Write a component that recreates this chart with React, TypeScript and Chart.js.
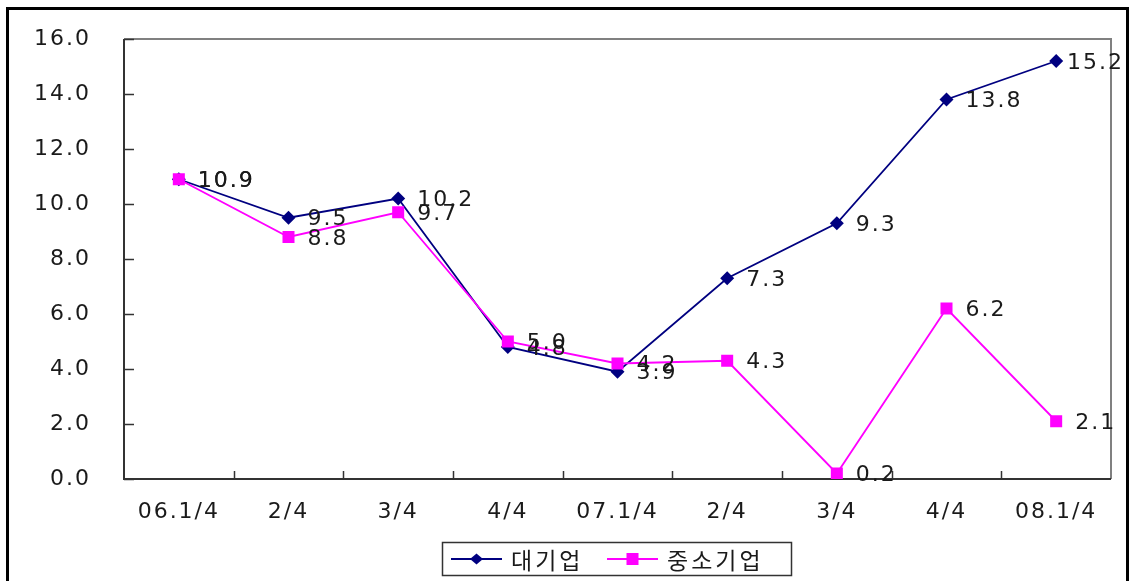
import React, { useEffect, useRef } from "react";
import { Chart, registerables } from "chart.js";

Chart.register(...registerables);

const categories = ["06.1/4", "2/4", "3/4", "4/4", "07.1/4", "2/4", "3/4", "4/4", "08.1/4"];
const largeFirms = [10.9, 9.5, 10.2, 4.8, 3.9, 7.3, 9.3, 13.8, 15.2];
const smeFirms = [10.9, 8.8, 9.7, 5.0, 4.2, 4.3, 0.2, 6.2, 2.1];
const seriesNames = ["대기업", "중소기업"];
const yMin = 0;
const yMax = 16;
const yStep = 2;

const NAVY = "#000080";
const MAGENTA = "#FF00FF";
const FONT = "'DejaVu Sans', 'Noto Sans CJK KR', sans-serif";
const SPACING = "2px";

const setSpacing = (chart: any) => {
  (chart.ctx as any).letterSpacing = SPACING;
};

const decorPlugin = {
  id: "decor",
  beforeUpdate: setSpacing,
  beforeLayout: setSpacing,
  beforeDraw(chart: any) {
    setSpacing(chart);
    const ctx = chart.ctx;
    ctx.save();
    ctx.fillStyle = "#ffffff";
    ctx.fillRect(0, 0, chart.width, chart.height);
    ctx.strokeStyle = "#000000";
    ctx.lineWidth = 3;
    ctx.strokeRect(7.5, 8.5, 1120, 700);
    ctx.restore();
  },
  beforeDatasetsDraw(chart: any) {
    const ctx = chart.ctx;
    const { left, right, top, bottom } = chart.chartArea;
    const y = chart.scales.y;
    ctx.save();
    ctx.strokeStyle = "#808080";
    ctx.lineWidth = 2;
    ctx.beginPath();
    ctx.moveTo(left, top);
    ctx.lineTo(right, top);
    ctx.lineTo(right, bottom);
    ctx.stroke();
    ctx.strokeStyle = "#333333";
    ctx.beginPath();
    ctx.moveTo(left, top);
    ctx.lineTo(left, bottom);
    ctx.lineTo(right, bottom);
    ctx.stroke();
    ctx.lineWidth = 1.5;
    for (let v = yMin; v <= yMax; v += yStep) {
      const py = Math.round(y.getPixelForValue(v)) + 0.5;
      ctx.beginPath();
      ctx.moveTo(left, py);
      ctx.lineTo(left + 10, py);
      ctx.stroke();
    }
    const n = categories.length;
    const w = (right - left) / n;
    for (let i = 1; i < n; i++) {
      const px = Math.round(left + i * w) + 0.5;
      ctx.beginPath();
      ctx.moveTo(px, bottom);
      ctx.lineTo(px, bottom - 8);
      ctx.stroke();
    }
    ctx.restore();
  },
  afterDatasetsDraw(chart: any) {
    const ctx = chart.ctx;
    ctx.save();
    ctx.font = `22px ${FONT}`;
    (ctx as any).letterSpacing = SPACING;
    ctx.fillStyle = "#1a1a1a";
    ctx.textAlign = "left";
    ctx.textBaseline = "middle";
    [0, 1].forEach((di) => {
      const meta = chart.getDatasetMeta(di);
      const data = chart.data.datasets[di].data as number[];
      meta.data.forEach((pt: any, i: number) => {
        const txt = data[i].toFixed(1);
        const tw = ctx.measureText(txt).width;
        let tx = pt.x + 19;
        if (tx + tw > 1124) tx = 1124 - tw;
        ctx.fillText(txt, tx, pt.y + 2);
      });
    });
    ctx.restore();

    ctx.save();
    ctx.strokeStyle = "#333333";
    ctx.lineWidth = 1.5;
    ctx.strokeRect(442.5, 542.5, 349, 33);
    const items = [
      { color: NAVY, style: "diamond", x0: 451, text: seriesNames[0], tx: 511 },
      { color: MAGENTA, style: "square", x0: 607, text: seriesNames[1], tx: 667 },
    ];
    const ly = 559;
    items.forEach((it) => {
      ctx.strokeStyle = it.color;
      ctx.lineWidth = 1.8;
      ctx.beginPath();
      ctx.moveTo(it.x0, ly);
      ctx.lineTo(it.x0 + 51, ly);
      ctx.stroke();
      ctx.fillStyle = it.color;
      const cx = it.x0 + 25.5;
      if (it.style === "diamond") {
        ctx.beginPath();
        ctx.moveTo(cx - 6.5, ly);
        ctx.lineTo(cx, ly - 5.5);
        ctx.lineTo(cx + 6.5, ly);
        ctx.lineTo(cx, ly + 5.5);
        ctx.closePath();
        ctx.fill();
      } else {
        ctx.fillRect(cx - 6, ly - 6, 12, 12);
      }
      ctx.fillStyle = "#1a1a1a";
      ctx.font = `23px 'Noto Sans CJK KR', sans-serif`;
      (ctx as any).letterSpacing = "3px";
      ctx.textAlign = "left";
      ctx.textBaseline = "middle";
      ctx.fillText(it.text, it.tx, ly + 1);
    });
    ctx.restore();
  },
};

export default function App() {
  const ref = useRef<HTMLCanvasElement>(null);
  useEffect(() => {
    if (!ref.current) return;
    const chart = new Chart(ref.current, {
      type: "line",
      data: {
        labels: categories,
        datasets: [
          {
            label: seriesNames[0],
            data: largeFirms,
            borderColor: NAVY,
            backgroundColor: NAVY,
            borderWidth: 1.8,
            pointStyle: "rectRot",
            pointRadius: 7,
            pointBorderWidth: 0,
            tension: 0,
            order: 1,
          },
          {
            label: seriesNames[1],
            data: smeFirms,
            borderColor: MAGENTA,
            backgroundColor: MAGENTA,
            borderWidth: 1.8,
            pointStyle: "rect",
            pointRadius: 8.5,
            pointBorderWidth: 0,
            tension: 0,
            order: 0,
          },
        ],
      },
      options: {
        responsive: false,
        animation: false,
        devicePixelRatio: 1,
        layout: { padding: { top: 39, right: 19, left: 0, bottom: 0 } },
        plugins: {
          legend: { display: false },
          tooltip: { enabled: false },
        },
        scales: {
          x: {
            offset: true,
            grid: { display: false, drawTicks: false },
            border: { display: false },
            ticks: {
              color: "#1a1a1a",
              font: { family: FONT, size: 22 },
              padding: 20,
              maxRotation: 0,
              autoSkip: false,
            },
            afterFit: (s: any) => {
              s.height = 102;
              s.paddingLeft = 0;
              s.paddingRight = 0;
            },
          },
          y: {
            min: yMin,
            max: yMax,
            grid: { display: false, drawTicks: false },
            border: { display: false },
            ticks: {
              stepSize: yStep,
              color: "#1a1a1a",
              font: { family: FONT, size: 22 },
              padding: 33,
              callback: (v: any) => Number(v).toFixed(1),
            },
            afterFit: (s: any) => {
              s.width = 124;
              s.paddingTop = 0;
              s.paddingBottom = 0;
            },
          },
        },
      },
      plugins: [decorPlugin],
    });
    return () => chart.destroy();
  }, []);
  return (
    <canvas
      ref={ref}
      width={1130}
      height={581}
      style={{ position: "fixed", left: 0, top: 0, width: 1130, height: 581 }}
    />
  );
}
